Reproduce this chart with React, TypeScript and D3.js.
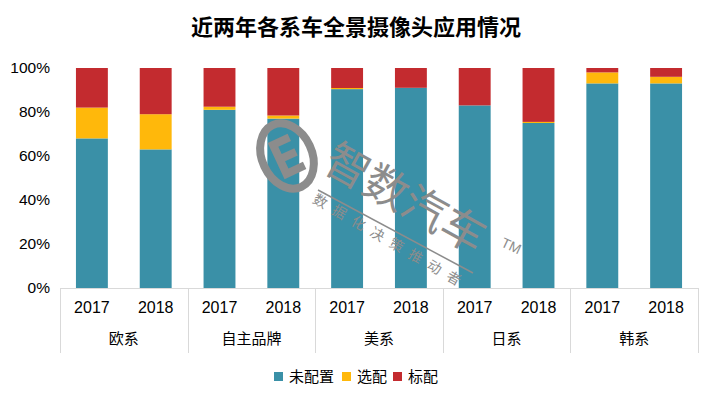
import { useEffect, useRef } from 'react';
import * as d3 from 'd3';

const groups = ['欧系', '自主品牌', '美系', '日系', '韩系'];
const years = ['2017', '2018'];
const seriesNames = ['未配置', '选配', '标配'];
const seriesColors = ['#3A90A7', '#FFB80B', '#C32B2F'];

// one value per bar, 欧系2017, 欧系2018, 自主品牌2017 ...
const notConfigured = [68, 63, 81, 77, 90.4, 91, 83, 75, 93, 93];
const optional = [14, 16, 1.4, 1.4, 0.5, 0, 0, 0.5, 5, 3];
const standard = [18, 21, 17.6, 21.6, 9.1, 9, 17, 24.5, 2, 4];
const yTicks = [0, 0.2, 0.4, 0.6, 0.8, 1];

const FONT = '"Liberation Sans", Arial, "Noto Sans CJK SC", sans-serif';
const CJK = '"Noto Sans CJK SC", "Microsoft YaHei", sans-serif';

export default function App() {
  const svgRef = useRef<SVGSVGElement>(null);

  useEffect(() => {
    if (!svgRef.current) return;
    const svg = d3.select(svgRef.current);
    svg.selectAll('*').remove();

    const width = 715;
    const height = 395;
    const left = 60, right = 698, top = 68, bottom = 288;

    const rows = notConfigured.map((v, i) => ({
      key: i,
      未配置: v,
      选配: optional[i],
      标配: standard[i],
    }));

    const x = d3.scaleBand<number>()
      .domain(rows.map(d => d.key))
      .range([left, right])
      .paddingInner(0.5)
      .paddingOuter(0.25);

    const y = d3.scaleLinear().domain([0, 100]).range([bottom, top]);

    const stack = d3.stack<any>().keys(seriesNames);
    const layers = stack(rows);

    // Title
    svg.append('text')
      .attr('x', 356)
      .attr('y', 35)
      .attr('text-anchor', 'middle')
      .style('font-family', CJK)
      .style('font-size', '22px')
      .style('font-weight', 'bold')
      .attr('fill', '#000')
      .text('近两年各系车全景摄像头应用情况');

    // Bars
    layers.forEach((layer, li) => {
      svg.append('g')
        .attr('fill', seriesColors[li])
        .selectAll('rect')
        .data(layer)
        .enter()
        .append('rect')
        .attr('x', (d: any) => x(d.data.key)!)
        .attr('width', x.bandwidth())
        .attr('y', d => y(d[1]))
        .attr('height', d => Math.max(0, y(d[0]) - y(d[1])));
    });

    // Y axis labels
    const yPct = d3.scaleLinear().domain([0, 1]).range([bottom, top]);
    svg.append('g')
      .selectAll('text')
      .data(yTicks)
      .enter()
      .append('text')
      .attr('x', 50)
      .attr('y', d => yPct(d))
      .attr('dy', '0.35em')
      .attr('text-anchor', 'end')
      .style('font-family', FONT)
      .style('font-size', '15.5px')
      .attr('fill', '#000')
      .text(d => d3.format('.0%')(d));

    // Category axis
    const axisColor = '#d9d9d9';
    svg.append('line')
      .attr('x1', left).attr('x2', right)
      .attr('y1', bottom + 0.5).attr('y2', bottom + 0.5)
      .attr('stroke', axisColor);

    const step = x.step();
    const bounds = d3.range(groups.length + 1).map(i => left + i * step * years.length);
    svg.append('g')
      .selectAll('line')
      .data(bounds)
      .enter()
      .append('line')
      .attr('x1', d => Math.round(d) + 0.5)
      .attr('x2', d => Math.round(d) + 0.5)
      .attr('y1', bottom)
      .attr('y2', 353)
      .attr('stroke', axisColor);

    svg.append('g')
      .selectAll('text')
      .data(rows)
      .enter()
      .append('text')
      .attr('x', d => x(d.key)! + x.bandwidth() / 2)
      .attr('y', 313)
      .attr('text-anchor', 'middle')
      .style('font-family', FONT)
      .style('font-size', '16px')
      .attr('fill', '#000')
      .text(d => years[d.key % years.length]);

    svg.append('g')
      .selectAll('text')
      .data(groups)
      .enter()
      .append('text')
      .attr('x', (_, i) => (bounds[i] + bounds[i + 1]) / 2)
      .attr('y', 344)
      .attr('text-anchor', 'middle')
      .style('font-family', CJK)
      .style('font-size', '15px')
      .attr('fill', '#000')
      .text(d => d);

    // Legend
    const legendItems = [
      { name: seriesNames[0], x: 274 },
      { name: seriesNames[1], x: 342 },
      { name: seriesNames[2], x: 393 },
    ];
    const lg = svg.append('g');
    legendItems.forEach((item, i) => {
      lg.append('rect')
        .attr('x', item.x).attr('y', 372)
        .attr('width', 9).attr('height', 9)
        .attr('fill', seriesColors[i]);
      lg.append('text')
        .attr('x', item.x + 15)
        .attr('y', 382)
        .style('font-family', CJK)
        .style('font-size', '15px')
        .attr('fill', '#000')
        .text(item.name);
    });

    // Watermark
    const wm = svg.append('g').attr('fill', '#8c8c8c').attr('stroke', 'none');
    wm.append('ellipse')
      .attr('cx', 287).attr('cy', 156)
      .attr('rx', 25).attr('ry', 34)
      .attr('transform', 'rotate(-25 287 156)')
      .attr('fill', 'none')
      .attr('stroke', '#8c8c8c')
      .attr('stroke-width', 8);
    wm.append('path')
      .attr('transform', 'rotate(-25 287 156)')
      .attr('d', 'M275,136 h22 v8 h-14 v8 h14 v8 h-14 v8 h16 v8 h-24 z');
    wm.append('text')
      .attr('transform', 'translate(398,212) rotate(29)')
      .attr('text-anchor', 'middle')
      .style('font-family', CJK)
      .style('font-size', '44px')
      .style('font-weight', 'normal')
      .text('智数汽车');
    wm.append('line')
      .attr('x1', 318).attr('y1', 190)
      .attr('x2', 473).attr('y2', 273)
      .attr('stroke', '#8c8c8c')
      .attr('stroke-width', 1.5);
    wm.append('text')
      .attr('transform', 'translate(388,246) rotate(30)')
      .attr('text-anchor', 'middle')
      .style('font-family', CJK)
      .style('font-size', '14px')
      .style('letter-spacing', '8px')
      .text('数据化决策推动者');
    wm.append('text')
      .attr('transform', 'translate(500,246) rotate(25)')
      .style('font-family', FONT)
      .style('font-size', '14px')
      .text('TM');

    svg.attr('width', width).attr('height', height);
  }, []);

  return (
    <div style={{ position: 'absolute', left: 0, top: 0, width: 715, height: 395, background: '#fff' }}>
      <svg ref={svgRef} width={715} height={395} style={{ display: 'block' }} />
    </div>
  );
}
